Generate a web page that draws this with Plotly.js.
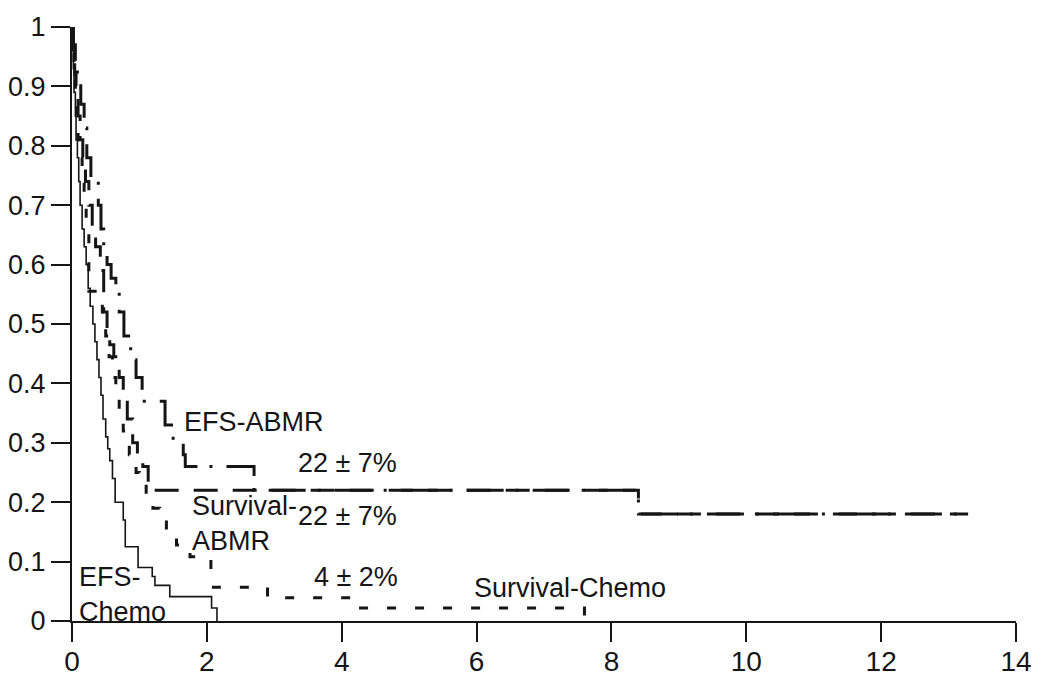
<!DOCTYPE html>
<html>
<head>
<meta charset="utf-8">
<script src="https://cdn.plot.ly/plotly-3.0.1.min.js"></script>
<style>html,body{margin:0;padding:0;background:#fff;}#chart{width:1050px;height:694px;}</style>
</head>
<body>
<div id="chart"></div>
<script>
// EFS - Chemotherapy (solid)
var efsChemoT = [0,0.01,0.02,0.03,0.05,0.06,0.08,0.10,0.12,0.15,0.18,0.21,0.24,0.27,0.31,0.34,0.37,0.40,0.43,0.46,0.50,0.53,0.56,0.60,0.64,0.76,0.79,0.98,1.19,1.23,1.45,2.07,2.15];
var efsChemoS = [1,0.96,0.93,0.89,0.85,0.81,0.78,0.74,0.70,0.66,0.63,0.60,0.56,0.53,0.50,0.47,0.44,0.41,0.38,0.34,0.31,0.29,0.27,0.24,0.20,0.17,0.125,0.09,0.075,0.06,0.041,0.022,0];
// Survival - Chemotherapy (short dash)
var survChemoT = [0,0.01,0.03,0.05,0.07,0.09,0.12,0.15,0.18,0.21,0.25,0.45,0.50,0.55,0.60,0.65,0.70,0.76,0.80,0.85,0.90,0.95,1.00,1.10,1.20,1.30,1.40,1.55,1.75,2.06,2.90,4.20,7.60];
var survChemoS = [1,0.96,0.93,0.89,0.85,0.81,0.78,0.74,0.70,0.66,0.555,0.52,0.48,0.445,0.41,0.38,0.35,0.32,0.30,0.28,0.26,0.25,0.24,0.21,0.19,0.17,0.153,0.128,0.108,0.057,0.039,0.022,0];
// EFS - ABMR (dash-dot)
var efsAbmrT = [0,0.02,0.05,0.08,0.13,0.18,0.22,0.28,0.39,0.43,0.47,0.52,0.58,0.65,0.70,0.77,0.87,0.95,1.04,1.38,1.50,1.65,1.68,2.70,8.40,13.29];
var efsAbmrS = [1,0.97,0.94,0.91,0.87,0.83,0.78,0.74,0.70,0.66,0.63,0.60,0.577,0.555,0.52,0.48,0.44,0.41,0.37,0.33,0.296,0.28,0.26,0.22,0.18,0.18];
// Survival - ABMR (long dash)
var survAbmrT = [0,0.02,0.04,0.06,0.09,0.12,0.16,0.20,0.25,0.30,0.35,0.42,0.47,0.52,0.56,0.62,0.70,0.76,0.82,0.90,0.97,1.05,1.13,8.40,13.29];
var survAbmrS = [1,0.96,0.92,0.89,0.85,0.81,0.78,0.74,0.70,0.66,0.63,0.59,0.52,0.49,0.465,0.445,0.41,0.38,0.34,0.30,0.275,0.26,0.22,0.18,0.18];

var xTicks = [0,2,4,6,8,10,12,14];
var yTicks = [0,0.1,0.2,0.3,0.4,0.5,0.6,0.7,0.8,0.9,1];
var yTickText = ['0','0.1','0.2','0.3','0.4','0.5','0.6','0.7','0.8','0.9','1'];

var labels = [
  {text:'EFS-ABMR', x:1.63, y:0.335},
  {text:'22 ± 7%', x:3.32, y:0.266},
  {text:'Survival-<br>ABMR', x:1.75, y:0.164},
  {text:'22 ± 7%', x:3.32, y:0.177},
  {text:'4 ± 2%', x:3.56, y:0.074},
  {text:'Survival-Chemo', x:5.93, y:0.056},
  {text:'EFS-<br>Chemo', x:0.08, y:0.044}
];

var ink = '#151515';
function curve(t, s, width, dash) {
  return {x:t, y:s, type:'scatter', mode:'lines', line:{shape:'hv', color:ink, width:width, dash:dash}, hoverinfo:'skip', showlegend:false};
}
var data = [
  curve(efsChemoT, efsChemoS, 1.6, 'solid'),
  curve(survChemoT, survChemoS, 3, '9px,19px'),
  curve(efsAbmrT, efsAbmrS, 3, '37px,12px,3px,14px'),
  curve(survAbmrT, survAbmrS, 3, '24px,15px')
];

var layout = {
  width:1050, height:694,
  margin:{l:72, r:34, t:27, b:73},
  paper_bgcolor:'#fff', plot_bgcolor:'#fff',
  font:{family:'Liberation Sans, Arial, sans-serif', color:ink, size:27},
  xaxis:{range:[0,14], tickvals:xTicks, ticktext:xTicks.map(String), ticks:'outside', ticklen:19, tickwidth:2, tickcolor:ink,
         ticklabelstandoff:-5,
         showline:true, linewidth:2, linecolor:ink, showgrid:false, zeroline:false, fixedrange:true,
         tickfont:{family:'Liberation Sans, Arial, sans-serif', size:28, color:ink}},
  yaxis:{range:[0,1], tickvals:yTicks, ticktext:yTickText, ticks:'outside', ticklen:19, tickwidth:2, tickcolor:ink,
         showline:true, linewidth:2, linecolor:ink, showgrid:false, zeroline:false, fixedrange:true,
         tickfont:{family:'Liberation Sans, Arial, sans-serif', size:27, color:ink}},
  annotations: labels.map(function(l){
    return {text:l.text, x:l.x, y:l.y, xref:'x', yref:'y', xanchor:'left', yanchor:'middle', align:'left',
            showarrow:false, font:{family:'Liberation Sans, Arial, sans-serif', size:27, color:ink}};
  })
};
Plotly.newPlot('chart', data, layout, {staticPlot:true, displayModeBar:false});
</script>
</body>
</html>
